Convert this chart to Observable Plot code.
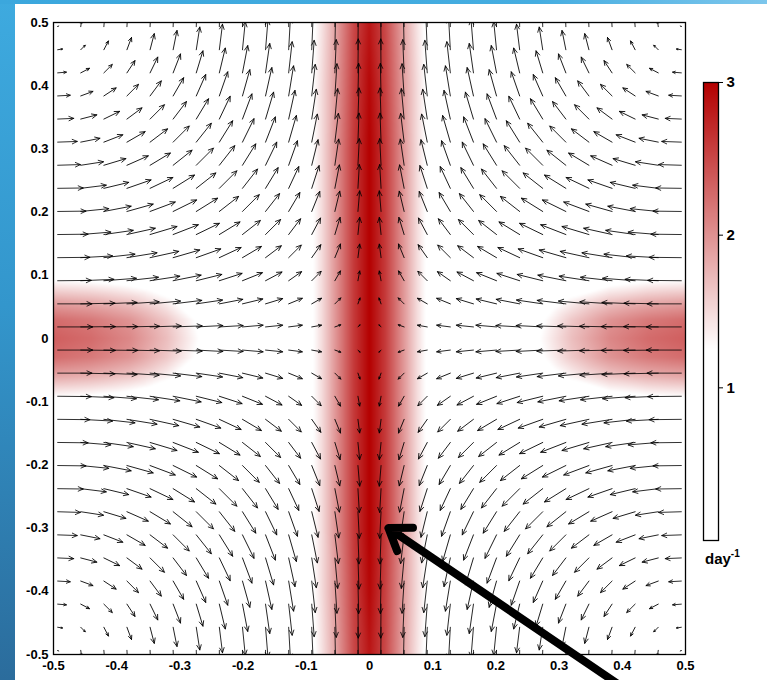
<!DOCTYPE html>
<html>
<head>
<meta charset="utf-8">
<script src="https://cdn.jsdelivr.net/npm/d3@7"></script>
<script src="https://cdn.jsdelivr.net/npm/@observablehq/plot@0.6"></script>
<style>
  html, body { margin: 0; padding: 0; background: #fff; }
  #page { position: relative; width: 767px; height: 680px; overflow: hidden; background: #fff;
          font-family: "Liberation Sans", Arial, sans-serif; }
  #blueLeft { position: absolute; left: 0; top: 0; width: 15px; height: 680px;
              background: linear-gradient(#3eaadf, #3396cc 45%, #2b6c9c); }
  #blueTop { position: absolute; left: 0; top: 0; width: 767px; height: 4px;
             background: linear-gradient(90deg, #3ba7dd, #45ade0 70%, #7cc6ec); }
  .layer { position: absolute; left: 0; top: 0; }
  #unit { position: absolute; left: 705px; top: 549px; font: bold 15px "Liberation Sans", Arial, sans-serif; color: #000; }
  #unit sup { font-size: 10px; position: relative; top: -1px; }
</style>
</head>
<body>
<div id="page">
  <div id="blueLeft"></div>
  <div id="blueTop"></div>
  <div id="chart" class="layer"></div>
  <div id="bar" class="layer"></div>
  <div id="unit">day<sup>-1</sup></div>
</div>
<script>
// ---------- data ----------
// quiver grid positions (28 x 28)
const gridX = [-0.4934,-0.4569,-0.4203,-0.3838,-0.3472,-0.3107,-0.2741,-0.2376,-0.2010,-0.1645,-0.1279,-0.0914,-0.0548,-0.0183,
                0.0183,0.0548,0.0914,0.1279,0.1645,0.2010,0.2376,0.2741,0.3107,0.3472,0.3838,0.4203,0.4569,0.4934];
const gridY = [-0.4934,-0.4569,-0.4203,-0.3838,-0.3472,-0.3107,-0.2741,-0.2376,-0.2010,-0.1645,-0.1279,-0.0914,-0.0548,-0.0183,
                0.0183,0.0548,0.0914,0.1279,0.1645,0.2010,0.2376,0.2741,0.3107,0.3472,0.3838,0.4203,0.4569,0.4934];
// quadrant of horizontal speed magnitudes (row: |y| index from centre, col: |x| index from centre);
// the vertical component is the transposed table (field is symmetric about the axes)
const speedQuadrant = [
  [6,17,28,39,49,59,68,76,83,89,93,97,99,100],
  [6,17,28,39,49,58,67,75,82,87,92,95,98,98],
  [5,16,27,37,47,57,65,73,80,85,90,93,95,96],
  [5,16,26,36,45,54,62,70,76,82,86,89,91,92],
  [5,15,25,34,43,51,59,66,72,77,81,84,86,87],
  [5,14,23,32,40,48,55,61,67,72,75,78,80,81],
  [4,13,21,29,36,43,50,56,61,65,69,71,73,73],
  [4,11,18,25,32,38,44,49,54,58,61,63,65,65],
  [3,10,16,22,28,33,38,43,46,50,52,54,55,56],
  [3,8,13,18,23,27,31,35,38,41,43,45,46,46],
  [2,6,10,14,18,21,24,27,30,32,33,35,35,36],
  [1,4,7,10,12,15,17,19,21,22,23,24,25,25],
  [1,2,4,5,7,8,9,10,11,12,13,13,13,14],
  [0,0,1,1,1,1,1,2,2,2,2,2,2,2]
];
// growth-rate field (day^-1) sampled on a coarse grid
const heatX = [-0.5,-0.44,-0.38,-0.32,-0.27,-0.22,-0.15,-0.1,-0.075,-0.05,-0.025,0,0.025,0.05,0.075,0.1,0.15,0.22,0.27,0.32,0.38,0.44,0.5];
const heatY = [-0.5,-0.4,-0.3,-0.2,-0.12,-0.09,-0.06,-0.03,0,0.03,0.06,0.09,0.12,0.2,0.3,0.4,0.5];
const heatValues = [
  [0,0,0,0,0,0.3,0.6,1.0,1.45,1.95,2.5,2.85,2.5,1.95,1.45,1.0,0.6,0.3,0,0,0,0,0],
  [0,0,0,0,0,0.3,0.6,1.05,1.5,2.0,2.55,2.95,2.55,2.0,1.5,1.05,0.6,0.3,0,0,0,0,0],
  [0,0,0,0,0,0.3,0.6,1.05,1.5,2.05,2.6,3,2.6,2.05,1.5,1.05,0.6,0.3,0,0,0,0,0],
  [0.4,0.38,0.35,0.29,0.21,0.3,0.6,1.05,1.5,2.05,2.6,3,2.6,2.05,1.5,1.05,0.6,0.3,0.21,0.29,0.35,0.38,0.4],
  [0.95,0.91,0.84,0.68,0.5,0.33,0.6,1.05,1.5,2.05,2.6,3,2.6,2.05,1.5,1.05,0.6,0.33,0.5,0.68,0.84,0.91,0.95],
  [1.3,1.25,1.14,0.94,0.69,0.46,0.6,1.05,1.5,2.05,2.6,3,2.6,2.05,1.5,1.05,0.6,0.46,0.69,0.94,1.14,1.25,1.3],
  [1.85,1.78,1.63,1.33,0.98,0.65,0.6,1.05,1.5,2.05,2.6,3,2.6,2.05,1.5,1.05,0.6,0.65,0.98,1.33,1.63,1.78,1.85],
  [2.25,2.16,1.98,1.62,1.19,0.79,0.6,1.05,1.5,2.05,2.6,3,2.6,2.05,1.5,1.05,0.6,0.79,1.19,1.62,1.98,2.16,2.25],
  [2.35,2.26,2.07,1.69,1.25,0.82,0.6,1.05,1.5,2.05,2.6,3,2.6,2.05,1.5,1.05,0.6,0.82,1.25,1.69,2.07,2.26,2.35],
  [2.25,2.16,1.98,1.62,1.19,0.79,0.6,1.05,1.5,2.05,2.6,3,2.6,2.05,1.5,1.05,0.6,0.79,1.19,1.62,1.98,2.16,2.25],
  [1.85,1.78,1.63,1.33,0.98,0.65,0.6,1.05,1.5,2.05,2.6,3,2.6,2.05,1.5,1.05,0.6,0.65,0.98,1.33,1.63,1.78,1.85],
  [1.3,1.25,1.14,0.94,0.69,0.46,0.6,1.05,1.5,2.05,2.6,3,2.6,2.05,1.5,1.05,0.6,0.46,0.69,0.94,1.14,1.25,1.3],
  [0.95,0.91,0.84,0.68,0.5,0.33,0.6,1.05,1.5,2.05,2.6,3,2.6,2.05,1.5,1.05,0.6,0.33,0.5,0.68,0.84,0.91,0.95],
  [0.4,0.38,0.35,0.29,0.21,0.3,0.6,1.05,1.5,2.05,2.6,3,2.6,2.05,1.5,1.05,0.6,0.3,0.21,0.29,0.35,0.38,0.4],
  [0,0,0,0,0,0.3,0.6,1.05,1.5,2.05,2.6,3,2.6,2.05,1.5,1.05,0.6,0.3,0,0,0,0,0],
  [0,0,0,0,0,0.3,0.6,1.05,1.5,2.0,2.55,2.95,2.55,2.0,1.5,1.05,0.6,0.3,0,0,0,0,0],
  [0,0,0,0,0,0.3,0.6,1.0,1.45,1.95,2.5,2.85,2.5,1.95,1.45,1.0,0.6,0.3,0,0,0,0,0]
];
const xTicks = [-0.5,-0.4,-0.3,-0.2,-0.1,0,0.1,0.2,0.3,0.4,0.5];
const xTickLabels = ["-0.5","-0.4","-0.3","-0.2","-0.1","0","0.1","0.2","0.3","0.4","0.5"];
const yTicks = [-0.5,-0.4,-0.3,-0.2,-0.1,0,0.1,0.2,0.3,0.4,0.5];
const yTickLabels = ["-0.5","-0.4","-0.3","-0.2","-0.1","0","0.1","0.2","0.3","0.4","0.5"];
const barTicks = [1, 2, 3];
const barTickLabels = ["1", "2", "3"];
const colorDomain = [0, 1.25, 3];
const colorRange = ["#ffffff", "#ffffff", "#b40000"];
const pointer = [{x1: 0.42, y1: -0.565, x2: 0.03, y2: -0.300}];

// ---------- tables ----------
const half = gridX.length / 2;
const arrows = [];
gridX.forEach((x, a) => {
  gridY.forEach((y, b) => {
    const i = a >= half ? a - half : half - 1 - a;
    const j = b >= half ? b - half : half - 1 - b;
    const u = (x < 0 ? 1 : -1) * speedQuadrant[j][i];
    const v = (y < 0 ? -1 : 1) * speedQuadrant[i][j];
    arrows.push({x, y, len: Math.hypot(u, v), rot: Math.atan2(u, v) * 180 / Math.PI});
  });
});
const heatPoints = [];
heatY.forEach((y, r) => heatX.forEach((x, c) => heatPoints.push({x, y, value: heatValues[r][c]})));

const xLabel = new Map(xTicks.map((t, i) => [t, xTickLabels[i]]));
const yLabel = new Map(yTicks.map((t, i) => [t, yTickLabels[i]]));
const barLabel = new Map(barTicks.map((t, i) => [t, barTickLabels[i]]));

// MATLAB-like quiver arrow: thin shaft with small head
const quiverArrow = {
  draw(context, l) {
    if (l < 0.5) return;
    const h = Math.min(5, l * 0.3), w = h * 0.45;
    context.moveTo(0, 0);
    context.lineTo(0, -l);
    context.moveTo(-w, h - l);
    context.lineTo(0, -l);
    context.lineTo(w, h - l);
  }
};

const font = "Liberation Sans, Arial, sans-serif";

const chart = Plot.plot({
  width: 767, height: 680,
  marginLeft: 53, marginRight: 82, marginTop: 22, marginBottom: 26,
  style: {background: "transparent", fontFamily: font, overflow: "visible", color: "#000"},
  x: {domain: [-0.5, 0.5]},
  y: {domain: [-0.5, 0.5]},
  color: {type: "linear", domain: colorDomain, range: colorRange, clamp: true},
  length: {domain: [0, 100], range: [0, 35]},
  marks: [
    Plot.raster(heatPoints, {x: "x", y: "y", fill: "value", interpolate: "barycentric"}),
    Plot.vector(arrows, {x: "x", y: "y", length: "len", rotate: "rot", anchor: "start",
      shape: quiverArrow, stroke: "#000", strokeWidth: 0.8, clip: true}),
    Plot.frame({stroke: "#000", strokeWidth: 1.3}),
    Plot.axisX({ticks: xTicks, tickFormat: d => xLabel.get(d), tickSize: 0, tickPadding: 6,
      fontSize: 13, fontWeight: "bold", label: null}),
    Plot.axisY({ticks: yTicks, tickFormat: d => yLabel.get(d), tickSize: 0, tickPadding: 5,
      fontSize: 13, fontWeight: "bold", label: null}),
    Plot.arrow(pointer, {x1: "x1", y1: "y1", x2: "x2", y2: "y2", stroke: "#000",
      strokeWidth: 8, headLength: 4.6, headAngle: 70})
  ]
});
document.getElementById("chart").appendChild(chart);

const bar = Plot.plot({
  width: 767, height: 680,
  marginLeft: 703, marginRight: 49, marginTop: 82, marginBottom: 140,
  style: {background: "transparent", fontFamily: font, overflow: "visible", color: "#000"},
  x: {domain: [0, 1], axis: null},
  y: {domain: [0, 3]},
  color: {type: "linear", domain: colorDomain, range: colorRange, clamp: true},
  marks: [
    Plot.raster({x1: 0, x2: 1, y1: 0, y2: 3, fill: (x, y) => y, pixelSize: 1}),
    Plot.frame({stroke: "#000", strokeWidth: 1.3}),
    Plot.axisY({anchor: "right", ticks: barTicks, tickFormat: d => barLabel.get(d), tickSize: 4,
      tickPadding: 4, fontSize: 15, fontWeight: "bold", label: null})
  ]
});
document.getElementById("bar").appendChild(bar);
</script>
</body>
</html>
